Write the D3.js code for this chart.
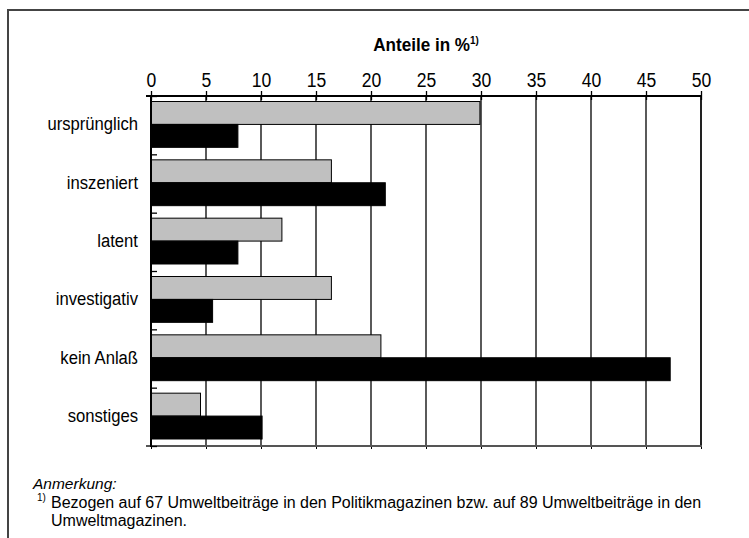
<!DOCTYPE html>
<html>
<head>
<meta charset="utf-8">
<script src="https://cdn.jsdelivr.net/npm/d3@7"></script>
<style>
  body { margin: 0; background: #fff; }
  text { font-family: "Liberation Sans", Arial, sans-serif; fill: #000; }
</style>
</head>
<body>
<div id="chart-area"></div>
<script>
const categories = ["ursprünglich", "inszeniert", "latent", "investigativ", "kein Anlaß", "sonstiges"];
// gray = Politikmagazine (n=67), black = Umweltmagazine (n=89)
const politik = [29.9, 16.4, 11.9, 16.4, 20.9, 4.5];
const umwelt = [7.9, 21.3, 7.9, 5.6, 47.2, 10.1];
const xTicks = [0, 5, 10, 15, 20, 25, 30, 35, 40, 45, 50];
const title = "Anteile in %";
const noteHead = "Anmerkung:";
const noteLines = [
  "Bezogen auf 67 Umweltbeiträge in den Politikmagazinen bzw. auf 89 Umweltbeiträge in den",
  "Umweltmagazinen."
];

const W = 749, H = 538;
const margin = { left: 151, right: 48, top: 96, bottom: 92 };
const width = W - margin.left - margin.right;
const height = H - margin.top - margin.bottom;
const squeeze = 0.9; // the original lettering is a bit narrower than Arial

const svg = d3.select("#chart-area")
  .append("svg")
    .attr("width", W)
    .attr("height", H);

// frame
svg.append("rect")
  .attr("x", 8).attr("y", 10)
  .attr("width", W).attr("height", H)
  .attr("fill", "none")
  .attr("stroke", "#444")
  .attr("stroke-width", 2);

const g = svg.append("g")
  .attr("transform", "translate(" + margin.left + "," + margin.top + ")");

const x = d3.scaleLinear().domain([0, 50]).range([0, width]);

const y = d3.scaleBand()
  .domain(categories)
  .range([0, height])
  .paddingInner(0)
  .paddingOuter(0);

const inner = d3.scaleBand()
  .domain(["politik", "umwelt"])
  .range([5.5, y.bandwidth() - 7]);

// gridlines
g.selectAll(".grid")
  .data(xTicks.slice(1))
  .enter().append("line")
    .attr("class", "grid")
    .attr("x1", d => x(d)).attr("x2", d => x(d))
    .attr("y1", 0).attr("y2", height)
    .attr("stroke", d => d === 50 ? "#222" : "#000")
    .attr("stroke-width", d => d === 50 ? 2 : 1.3);

// bars
const rows = categories.map((c, i) => ({ cat: c, politik: politik[i], umwelt: umwelt[i] }));
const grp = g.selectAll(".row").data(rows).enter()
  .append("g")
    .attr("class", "row")
    .attr("transform", d => "translate(0," + y(d.cat) + ")");

grp.append("rect")
  .attr("x", x(0))
  .attr("y", inner("politik"))
  .attr("width", d => x(d.politik) - x(0))
  .attr("height", inner.bandwidth())
  .attr("fill", "#c0c0c0")
  .attr("stroke", "#000")
  .attr("stroke-width", 1);

grp.append("rect")
  .attr("x", x(0))
  .attr("y", inner("umwelt"))
  .attr("width", d => x(d.umwelt) - x(0))
  .attr("height", inner.bandwidth())
  .attr("fill", "#000")
  .attr("stroke", "#000")
  .attr("stroke-width", 1);

// top axis
const xAxisTop = g.append("g")
  .attr("class", "x axis")
  .call(d3.axisTop(x).tickValues(xTicks).tickSize(5).tickSizeOuter(0).tickPadding(4));
xAxisTop.select(".domain").remove();
xAxisTop.selectAll(".tick line").attr("y1", 4).attr("stroke-width", 1.3);
xAxisTop.selectAll("text")
  .attr("font-size", "19.5px")
  .attr("fill", "#000")
  .attr("font-family", "Liberation Sans, Arial, sans-serif")
  .attr("transform", "scale(" + squeeze + ",1)");
g.append("line")
  .attr("x1", -5).attr("x2", width + 1)
  .attr("y1", 0).attr("y2", 0)
  .attr("stroke", "#000").attr("stroke-width", 2);

// bottom axis
const xAxisBottom = g.append("g")
  .attr("transform", "translate(0," + height + ")")
  .call(d3.axisBottom(x).tickValues(xTicks).tickSize(3).tickSizeOuter(0).tickFormat(""));
xAxisBottom.select(".domain").remove();
g.append("line")
  .attr("x1", -5).attr("x2", width + 1)
  .attr("y1", height).attr("y2", height)
  .attr("stroke", "#555").attr("stroke-width", 2);

// left axis: category boundary ticks + labels
const idx = d3.scaleLinear().domain([0, categories.length]).range([0, height]);
const yAxis = g.append("g")
  .call(d3.axisLeft(idx).ticks(categories.length).tickSize(4).tickFormat(""));
yAxis.select(".domain").remove();
yAxis.selectAll(".tick line").attr("x2", 6).attr("stroke-width", 1.3);
g.append("line")
  .attr("x1", 0).attr("x2", 0)
  .attr("y1", 0).attr("y2", height + 1)
  .attr("stroke", "#000").attr("stroke-width", 2);

g.selectAll(".cat-label")
  .data(categories)
  .enter().append("text")
    .attr("class", "cat-label")
    .attr("transform", d => "translate(-13," + (y(d) + y.bandwidth() / 2 + 5) + ") scale(" + squeeze + ",1)")
    .attr("text-anchor", "end")
    .attr("font-size", "18.5px")
    .text(d => d);

// title
const t = g.append("text")
  .attr("transform", "translate(" + (width / 2) + ",-45) scale(" + squeeze + ",1)")
  .attr("text-anchor", "middle")
  .attr("font-size", "19px")
  .attr("font-weight", "bold")
  .text(title);
t.append("tspan")
  .attr("dy", "-7")
  .attr("font-size", "11px")
  .text("1)");

// note
svg.append("text")
  .attr("x", 33).attr("y", 489)
  .attr("font-size", "15.5px")
  .attr("font-style", "italic")
  .text(noteHead);

svg.append("text")
  .attr("x", 37).attr("y", 501)
  .attr("font-size", "10px")
  .text("1)");

svg.selectAll(".note")
  .data(noteLines)
  .enter().append("text")
    .attr("class", "note")
    .attr("x", 51)
    .attr("y", (d, i) => 508 + i * 18)
    .attr("font-size", "16px")
    .text(d => d);
</script>
</body>
</html>
